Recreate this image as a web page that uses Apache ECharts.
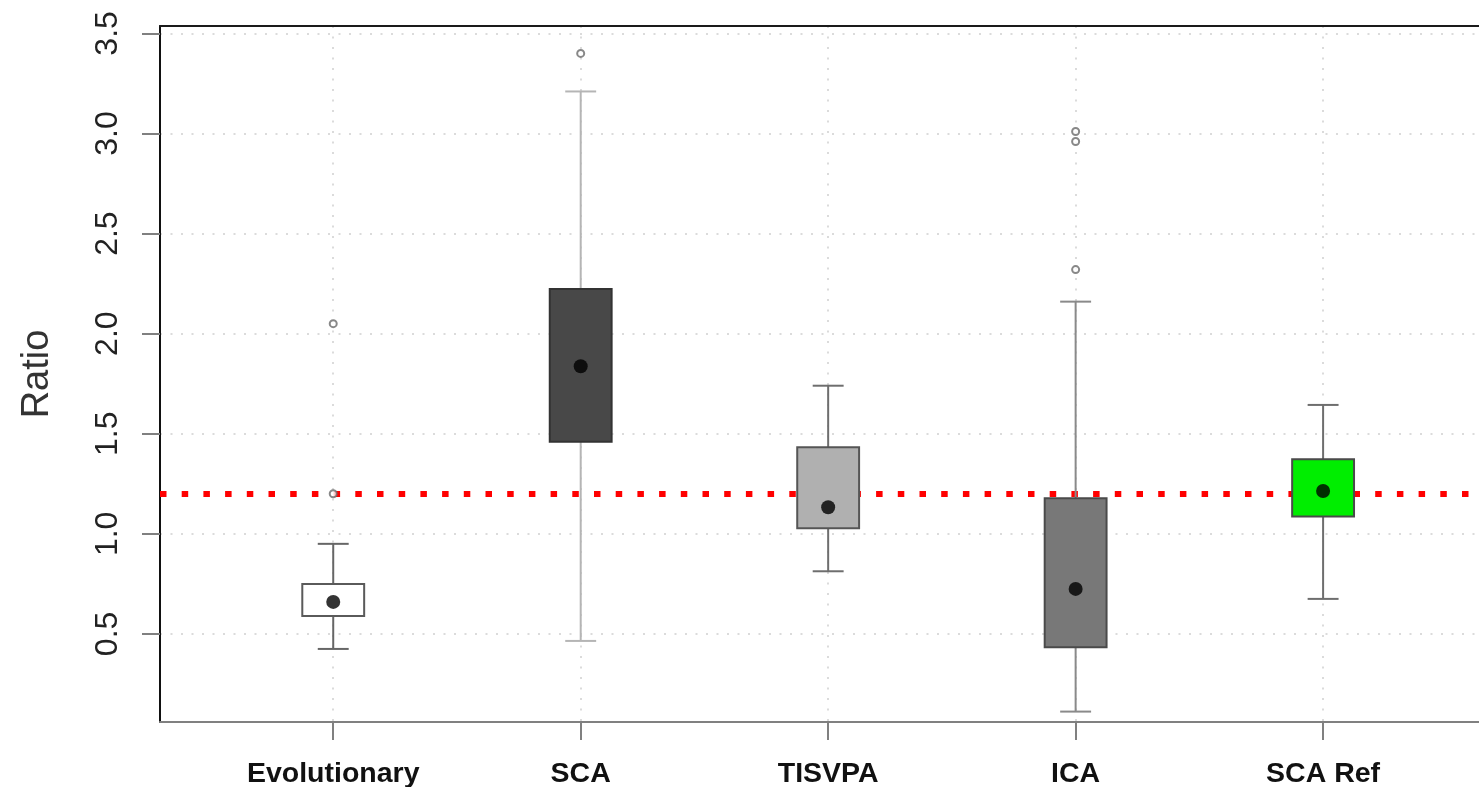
<!DOCTYPE html>
<html>
<head>
<meta charset="utf-8">
<title>Ratio by method</title>
<script src="https://cdn.jsdelivr.net/npm/echarts@6/dist/echarts.min.js"></script>
<style>
  html, body { margin: 0; padding: 0; background: #ffffff; }
  #chart { width: 1479px; height: 787px; }
</style>
</head>
<body>
<div id="chart"></div>
<script>
// Methods along the x axis (positions 1..5)
const categories = ['Evolutionary', 'SCA', 'TISVPA', 'ICA', 'SCA Ref'];

// Box-and-whisker statistics per method
const whiskerLow  = [0.425, 0.465, 0.813, 0.112, 0.675];
const quartile1   = [0.590, 1.460, 1.028, 0.434, 1.086];
const quartile3   = [0.750, 2.223, 1.433, 1.178, 1.373];
const whiskerHigh = [0.950, 3.210, 1.740, 2.160, 1.644];
const centreDot   = [0.660, 1.837, 1.133, 0.725, 1.214];

// Points beyond the whiskers
const outliers = [
  [1.20, 2.05],
  [3.40],
  [],
  [3.01, 2.96, 2.32],
  []
];

// Reference ratio drawn as a dotted red line
const referenceRatio = 1.2;

// Y tick labels
const yTickValues = [0.5, 1.0, 1.5, 2.0, 2.5, 3.0, 3.5];

// Per-box colours
const boxFill    = ['#ffffff', '#484848', '#b0b0b0', '#787878', '#00ee00'];
const boxBorder  = ['#5a5a5a', '#333333', '#555555', '#4a4a4a', '#4a4a4a'];
const whiskerCol = ['#666666', '#b5b5b5', '#6e6e6e', '#8a8a8a', '#6e6e6e'];

const xPositions = categories.map((_, i) => i + 1);

const boxData = categories.map((_, i) => [
  i + 1, whiskerLow[i], quartile1[i], quartile3[i], whiskerHigh[i]
]);
const dotData = categories.map((_, i) => [i + 1, centreDot[i]]);
const outlierData = [];
outliers.forEach((vals, i) => vals.forEach(v => outlierData.push([i + 1, v])));

const BOX_WIDTH = 0.25;   // in x-axis units
const CAP_WIDTH = 0.125;

function renderBox(params, api) {
  const i = params.dataIndex;
  const x = api.value(0);
  const pLow = api.coord([x, api.value(1)]);
  const pQ1 = api.coord([x, api.value(2)]);
  const pQ3 = api.coord([x, api.value(3)]);
  const pHigh = api.coord([x, api.value(4)]);
  const halfBox = api.size([BOX_WIDTH, 0])[0] / 2;
  const halfCap = api.size([CAP_WIDTH, 0])[0] / 2;
  const cx = pQ1[0];
  const wStyle = { stroke: whiskerCol[i], lineWidth: 2, fill: null };
  return {
    type: 'group',
    children: [
      { type: 'line', shape: { x1: cx, y1: pQ3[1], x2: cx, y2: pHigh[1] }, style: wStyle },
      { type: 'line', shape: { x1: cx, y1: pQ1[1], x2: cx, y2: pLow[1] }, style: wStyle },
      { type: 'line', shape: { x1: cx - halfCap, y1: pHigh[1], x2: cx + halfCap, y2: pHigh[1] }, style: wStyle },
      { type: 'line', shape: { x1: cx - halfCap, y1: pLow[1], x2: cx + halfCap, y2: pLow[1] }, style: wStyle },
      {
        type: 'rect',
        shape: { x: cx - halfBox, y: pQ3[1], width: halfBox * 2, height: pQ1[1] - pQ3[1] },
        style: { fill: boxFill[i], stroke: boxBorder[i], lineWidth: 2 }
      }
    ]
  };
}

const chart = echarts.init(document.getElementById('chart'), null, { renderer: 'canvas' });

const gridLineStyle = { color: '#cfcfcf', width: 1.5, type: [2, 8.5] };

// The plot region is cut by the right edge of the page, so the x range
// stops at 5.63 rather than being symmetric around the five boxes.
const X_MIN = 0.3;
const X_MAX = 5.63;

chart.setOption({
  animation: false,
  backgroundColor: '#ffffff',
  grid: {
    left: 160, top: 26, right: 0, bottom: 65,
    containLabel: false,
    outerBoundsMode: 'none'
  },
  xAxis: [
    {
      type: 'value',
      min: X_MIN,
      max: X_MAX,
      position: 'bottom',
      axisLine: { show: true, onZero: false, lineStyle: { color: '#808080', width: 2 } },
      axisTick: {
        show: true, inside: false, length: 18, customValues: xPositions,
        lineStyle: { color: '#808080', width: 2 }
      },
      axisLabel: {
        customValues: xPositions,
        formatter: v => categories[Math.round(v) - 1] || '',
        margin: 38,
        fontFamily: 'Liberation Sans, Arial, sans-serif',
        fontSize: 28.5,
        fontWeight: 'bold',
        color: '#111111'
      },
      splitLine: { show: true, lineStyle: gridLineStyle }
    },
    {
      type: 'value',
      min: X_MIN,
      max: X_MAX,
      position: 'top',
      axisLine: { show: true, onZero: false, lineStyle: { color: '#1a1a1a', width: 2 } },
      axisTick: { show: false },
      axisLabel: { show: false },
      splitLine: { show: false }
    }
  ],
  yAxis: {
    type: 'value',
    min: 0.06,
    max: 3.537,
    splitNumber: 6,
    name: 'Ratio',
    nameLocation: 'middle',
    nameRotate: 90,
    nameGap: 103,
    nameTextStyle: {
      fontFamily: 'Liberation Sans, Arial, sans-serif',
      fontSize: 38,
      color: '#333333'
    },
    axisLine: { show: true, onZero: false, lineStyle: { color: '#111111', width: 2 } },
    axisTick: {
      show: true, length: 18, customValues: yTickValues,
      lineStyle: { color: '#808080', width: 2 }
    },
    axisLabel: {
      customValues: yTickValues,
      rotate: 90,
      margin: 36,
      formatter: v => v.toFixed(1),
      fontFamily: 'Liberation Sans, Arial, sans-serif',
      fontSize: 32,
      color: '#222222'
    },
    splitLine: { show: true, lineStyle: gridLineStyle }
  },
  series: [
    {
      name: 'reference',
      type: 'line',
      data: [],
      z: 1,
      markLine: {
        silent: true,
        z: 1,
        symbol: ['none', 'none'],
        label: { show: false },
        lineStyle: { color: '#ff0000', width: 6, type: [6.5, 15.2], cap: 'butt' },
        data: [{ yAxis: referenceRatio }]
      }
    },
    {
      name: 'boxes',
      type: 'custom',
      renderItem: renderBox,
      data: boxData,
      encode: { x: 0, y: [1, 2, 3, 4] },
      z: 2,
      silent: true
    },
    {
      name: 'centre',
      type: 'scatter',
      data: dotData,
      symbol: 'circle',
      symbolSize: 14,
      itemStyle: { color: '#000000' },
      z: 3,
      silent: true
    },
    {
      name: 'outliers',
      type: 'scatter',
      data: outlierData,
      symbol: 'emptyCircle',
      symbolSize: 7,
      itemStyle: { color: '#6a6a6a', borderColor: '#6a6a6a', borderWidth: 1.5 },
      z: 4,
      silent: true
    }
  ]
});
</script>
</body>
</html>
